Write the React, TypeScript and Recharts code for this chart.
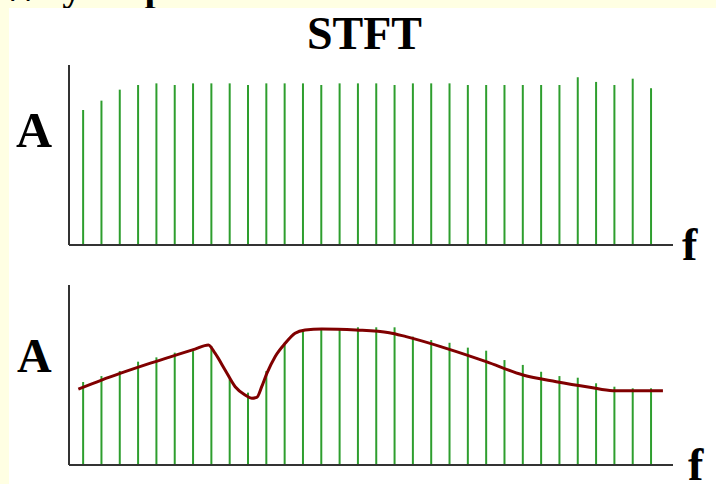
import { ComposedChart, Bar, Line, LineChart, XAxis, YAxis } from "recharts";

// frequency bins (stem positions)
const bins = [1, 2, 3, 4, 5, 6, 7, 8, 9, 10, 11, 12, 13, 14, 15, 16, 17, 18, 19, 20, 21, 22, 23, 24, 25, 26, 27, 28, 29, 30, 31, 32];

// top panel amplitudes
const topAmp = [75, 80.2, 86.3, 88.9, 89.8, 88.9, 89.8, 89.8, 89.8, 88.9, 89.8, 89.8, 89.8, 88.9, 89.8, 89.8, 89.8, 88.9, 89.8, 89.8, 89.8, 88.9, 88.9, 88.9, 88.9, 88.9, 88.9, 93.2, 90.6, 88.9, 92.4, 87.1];

// bottom panel amplitudes
const bottomAmp = [46.1, 49.4, 52.2, 57.4, 59.8, 62.4, 63.3, 66.1, 47.6, 40.2, 52.2, 67.2, 75, 75.4, 75.4, 76.5, 76.5, 76.5, 71.3, 69.4, 67.9, 65.2, 63.5, 58.3, 55.6, 51.8, 49.4, 48.5, 45.4, 43.5, 42.6, 42.6];

// envelope curve on the bottom panel
const envF = [0.73, 2.0, 4.5, 7.1, 7.83, 8.19, 8.74, 9.29, 9.83, 10.2, 10.47, 10.74, 11.02, 11.47, 12.02, 12.56, 13.11, 14.02, 15.89, 17.7, 18.62, 20.81, 22.99, 25.0, 26.82, 28.64, 29.91, 32.64];
const envA = [42.2, 47.2, 56, 64.4, 66.7, 62.1, 52.8, 43.5, 38.9, 37.1, 37.6, 43.5, 50.9, 60.2, 67.6, 73.2, 75, 75.6, 75, 73.5, 71.3, 64.8, 57.4, 50, 46.3, 43.2, 41.3, 41.3];

const heading = "Why a Spectrum?";
const title = "STFT";
const yLabel = "A";
const xLabel = "f";

const serif = "'Liberation Serif', 'Times New Roman', serif";
const axisStyle = { stroke: "#333", strokeWidth: 2 };
const fDomain = [0.22, 33.19];

const topData = bins.map((f, i) => ({ f, a: topAmp[i] }));
const bottomData = bins.map((f, i) => ({ f, a: bottomAmp[i] }));
const envelope = envF.map((f, i) => ({ f, a: envA[i] }));

function Stems({ data, top, height, margin }: any) {
  return (
    <div style={{ position: "absolute", left: 0, top }}>
      <ComposedChart width={716} height={height} data={data} margin={margin}>
        <XAxis
          dataKey="f"
          type="number"
          domain={fDomain}
          allowDataOverflow
          tick={false}
          tickLine={false}
          height={2}
          axisLine={axisStyle}
        />
        <YAxis type="number" domain={[0, 100]} allowDataOverflow tick={false} tickLine={false} width={2} axisLine={axisStyle} />
        <Bar dataKey="a" fill="#2e9e2e" barSize={2} isAnimationActive={false} />
      </ComposedChart>
    </div>
  );
}

function Envelope({ data, top, height, margin }: any) {
  return (
    <div style={{ position: "absolute", left: 0, top }}>
      <LineChart width={716} height={height} data={data} margin={margin}>
        <XAxis dataKey="f" type="number" domain={fDomain} allowDataOverflow hide />
        <YAxis type="number" domain={[0, 100]} allowDataOverflow hide />
        <Line dataKey="a" type="monotone" stroke="#800000" strokeWidth={3} dot={false} isAnimationActive={false} />
      </LineChart>
    </div>
  );
}

export default function App() {
  return (
    <div style={{ position: "absolute", left: 0, top: 0, width: 716, height: 484, background: "#ffffe3", overflow: "hidden" }}>
      <svg width={716} height={8} style={{ position: "absolute", left: 0, top: 0 }}>
        <text x={0} y={0} fontFamily={serif} fontWeight="bold" fontSize={40} fill="#000">
          {heading}
        </text>
      </svg>
      <div style={{ position: "absolute", left: 9, top: 8, right: 0, bottom: 0, background: "#fff" }} />
      <Stems data={topData} top={0} height={260} margin={{ top: 65, right: 43, bottom: 13, left: 67 }} />
      <Stems data={bottomData} top={260} height={224} margin={{ top: 25, right: 43, bottom: 17, left: 67 }} />
      <Envelope data={envelope} top={260} height={224} margin={{ top: 25, right: 43, bottom: 19, left: 69 }} />
      <svg width={716} height={484} style={{ position: "absolute", left: 0, top: 0 }}>
        <g fontFamily={serif} fontWeight="bold" fill="#000">
          <text x={364.5} y={49} fontSize={46} textAnchor="middle">
            {title}
          </text>
          <text x={16} y={147} fontSize={50}>
            {yLabel}
          </text>
          <text x={17} y={372} fontSize={48}>
            {yLabel}
          </text>
          <text x={682} y={259.5} fontSize={46}>
            {xLabel}
          </text>
          <text x={688} y={479.5} fontSize={46}>
            {xLabel}
          </text>
        </g>
      </svg>
    </div>
  );
}
